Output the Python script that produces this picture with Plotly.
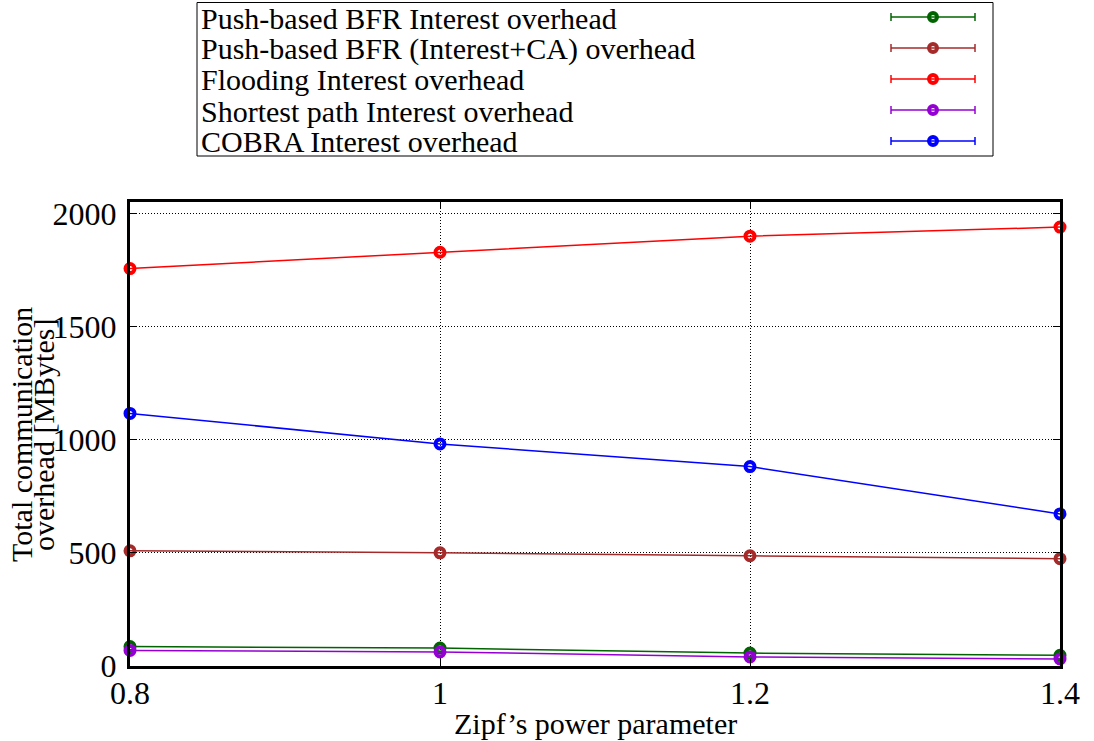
import plotly.graph_objects as go

x_vals = [0.8, 1.0, 1.2, 1.4]
x_labels = ["0.8", "1", "1.2", "1.4"]
y_ticks = [0, 500, 1000, 1500, 2000]
push_bfr = [86, 79, 57, 47]
push_bfr_ca = [509, 500, 487, 474]
flooding = [1756, 1828, 1899, 1939]
shortest = [69, 62, 40, 31]
cobra = [1116, 981, 881, 672]

series_names = [
    "Push-based BFR Interest overhead",
    "Push-based BFR (Interest+CA) overhead",
    "Flooding Interest overhead",
    "Shortest path Interest overhead",
    "COBRA Interest overhead",
]
series_vals = [push_bfr, push_bfr_ca, flooding, shortest, cobra]
colors = ["#006400", "#A52A2A", "#FF0000", "#9400D3", "#0000FF"]

W, H = 1094, 741
L, R, T, B = 130, 1060, 202, 666  # plot area on screen
FONT = "Liberation Serif, Times New Roman, serif"

fig = go.Figure()
for name, vals, c in zip(series_names, series_vals, colors):
    fig.add_trace(go.Scatter(
        x=x_vals, y=vals, mode="lines+markers", name=name,
        line=dict(color=c, width=1.5),
        marker=dict(symbol="circle-open", size=9, color=c, line=dict(width=4, color=c)),
        cliponaxis=False, showlegend=False, hoverinfo="skip",
    ))

def px(xp):
    return (xp - L) / (R - L)

def py(yp):
    return (B - yp) / (B - T)

shapes = []
annotations = []
shapes.append(dict(type="rect", xref="paper", yref="paper",
                   x0=px(197), x1=px(993), y0=py(156), y1=py(2.5),
                   line=dict(color="black", width=1), fillcolor="white", layer="above"))
row_y = [17, 48, 79, 110, 141]
for name, c, ry in zip(series_names, colors, row_y):
    annotations.append(dict(text=name, xref="paper", yref="paper", x=px(199), y=py(ry + 1),
                            xanchor="left", yanchor="middle", showarrow=False,
                            font=dict(family=FONT, size=30, color="black")))
    shapes.append(dict(type="line", xref="paper", yref="paper", x0=px(891), x1=px(975),
                       y0=py(ry), y1=py(ry), line=dict(color=c, width=1.5)))
    for cx in (891, 975):
        shapes.append(dict(type="line", xref="paper", yref="paper", x0=px(cx), x1=px(cx),
                           y0=py(ry - 4), y1=py(ry + 4), line=dict(color=c, width=1.5)))
    shapes.append(dict(type="circle", xref="paper", yref="paper", xsizemode="pixel", ysizemode="pixel",
                       xanchor=px(933), yanchor=py(ry), x0=-4, x1=4, y0=-4, y1=4,
                       line=dict(color=c, width=4)))

annotations.append(dict(text="Total communication", xref="paper", yref="paper",
                        x=px(21), y=py(435), xanchor="center", yanchor="middle", textangle=-90,
                        showarrow=False, font=dict(family=FONT, size=30, color="black")))
annotations.append(dict(text="overhead [MBytes]", xref="paper", yref="paper",
                        x=px(43), y=py(435), xanchor="center", yanchor="middle", textangle=-90,
                        showarrow=False, font=dict(family=FONT, size=30, color="black")))
annotations.append(dict(text="Zipf\u2019s power parameter", xref="paper", yref="paper",
                        x=0.5, y=py(723), xanchor="center", yanchor="middle",
                        showarrow=False, font=dict(family=FONT, size=30, color="black")))

grid = dict(showgrid=True, gridcolor="black", gridwidth=1, griddash="1px,2px",
            showline=True, linecolor="black", linewidth=3, mirror="ticks",
            ticks="inside", ticklen=7, tickcolor="black", tickwidth=1, zeroline=False)

fig.update_layout(
    width=W, height=H,
    margin=dict(l=L, r=W - R, t=T, b=H - B, pad=0),
    paper_bgcolor="white", plot_bgcolor="white",
    font=dict(family=FONT, size=32, color="black"),
    shapes=shapes, annotations=annotations,
    hovermode=False,
    xaxis=dict(range=[0.8, 1.4], tickvals=x_vals, ticktext=x_labels,
               ticklabelstandoff=-3, tickfont=dict(size=32), **grid),
    yaxis=dict(range=[0, 2050], tickvals=y_ticks,
               ticklabelstandoff=4, tickfont=dict(size=32), **grid),
)
fig.write_html("out.html", config={"displayModeBar": False},
               post_script="document.body.style.margin='0';")
